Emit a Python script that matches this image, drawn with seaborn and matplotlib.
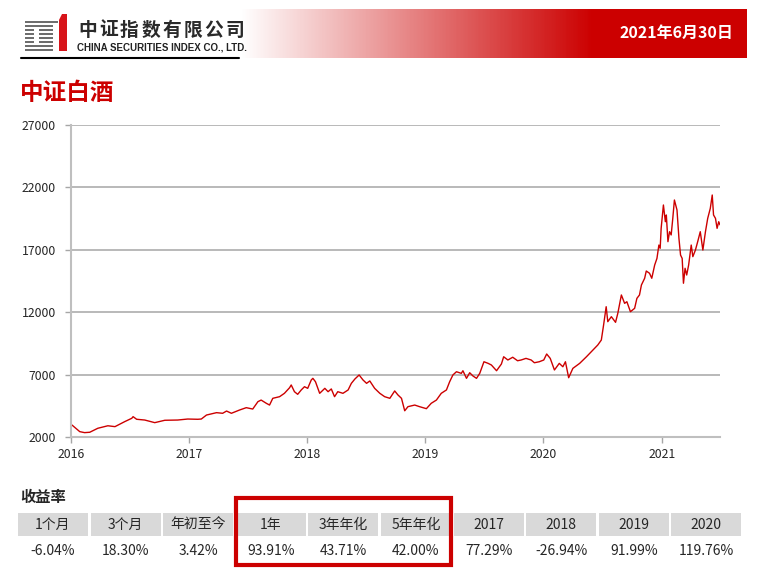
import matplotlib
matplotlib.use('Agg')
import matplotlib.pyplot as plt
import matplotlib.dates as mdates
from matplotlib.colors import LinearSegmentedColormap
from matplotlib.patches import Rectangle, Polygon
import numpy as np
import pandas as pd
import seaborn as sns

# index level (approximate, key turning points)
dates = [
    '2016-01-04', '2016-01-28', '2016-02-12', '2016-02-28', '2016-03-24', '2016-04-24',
    '2016-05-16', '2016-06-15', '2016-07-07', '2016-07-11', '2016-07-22', '2016-08-16',
    '2016-09-16', '2016-10-17', '2016-11-26', '2016-12-27', '2017-01-27', '2017-02-07',
    '2017-02-23', '2017-03-26', '2017-04-14', '2017-04-26', '2017-05-11', '2017-06-05',
    '2017-06-26', '2017-07-16', '2017-08-01', '2017-08-11', '2017-08-27', '2017-09-06',
    '2017-09-16', '2017-10-07', '2017-10-22', '2017-11-07', '2017-11-12', '2017-11-22',
    '2017-12-02', '2017-12-13', '2017-12-23', '2018-01-02', '2018-01-13', '2018-01-18',
    '2018-01-26', '2018-02-08', '2018-02-24', '2018-03-06', '2018-03-16', '2018-03-26',
    '2018-04-05', '2018-04-21', '2018-05-07', '2018-05-17', '2018-05-28', '2018-06-10',
    '2018-06-22', '2018-07-03', '2018-07-13', '2018-07-28', '2018-08-13', '2018-08-28',
    '2018-09-13', '2018-09-28', '2018-10-08', '2018-10-19', '2018-10-29', '2018-11-08',
    '2018-11-29', '2018-12-14', '2019-01-04', '2019-01-19', '2019-02-04', '2019-02-19',
    '2019-03-07', '2019-03-17', '2019-03-27', '2019-04-07', '2019-04-22', '2019-04-27',
    '2019-05-08', '2019-05-18', '2019-05-28', '2019-06-08', '2019-06-18', '2019-07-01',
    '2019-07-14', '2019-07-24', '2019-08-09', '2019-08-24', '2019-08-31', '2019-09-13',
    '2019-09-28', '2019-10-13', '2019-10-24', '2019-11-08', '2019-11-24', '2019-12-04',
    '2019-12-19', '2020-01-02', '2020-01-11', '2020-01-22', '2020-02-04', '2020-02-19',
    '2020-03-01', '2020-03-09', '2020-03-19', '2020-04-01', '2020-04-22', '2020-05-13',
    '2020-06-02', '2020-06-17', '2020-06-28', '2020-07-05', '2020-07-13', '2020-07-18',
    '2020-07-29', '2020-08-11', '2020-08-18', '2020-08-29', '2020-09-08', '2020-09-15',
    '2020-09-26', '2020-10-09', '2020-10-16', '2020-10-24', '2020-10-30', '2020-11-09',
    '2020-11-14', '2020-11-24', '2020-12-01', '2020-12-10', '2020-12-17', '2020-12-23',
    '2020-12-27', '2020-12-30', '2021-01-06', '2021-01-12', '2021-01-15', '2021-01-20',
    '2021-01-25', '2021-01-30', '2021-02-04', '2021-02-09', '2021-02-17', '2021-02-23',
    '2021-02-28', '2021-03-05', '2021-03-09', '2021-03-14', '2021-03-19', '2021-03-25',
    '2021-04-02', '2021-04-07', '2021-04-15', '2021-04-22', '2021-04-30', '2021-05-08',
    '2021-05-16', '2021-05-23', '2021-05-31', '2021-06-06', '2021-06-10', '2021-06-16',
    '2021-06-21', '2021-06-26', '2021-06-30',
]
values = [
    2960, 2430, 2350, 2380, 2700, 2900,
    2830, 3230, 3500, 3630, 3420, 3360,
    3150, 3340, 3360, 3440, 3420, 3440,
    3760, 3950, 3900, 4080, 3900, 4160,
    4350, 4240, 4830, 4960, 4700, 4560,
    5100, 5230, 5500, 5950, 6170, 5630,
    5420, 5770, 6030, 5900, 6570, 6700,
    6430, 5500, 5900, 5630, 5850, 5230,
    5630, 5500, 5770, 6300, 6650, 6970,
    6570, 6300, 6490, 5900, 5500, 5230,
    5100, 5690, 5370, 5100, 4100, 4430,
    4560, 4430, 4270, 4700, 4960, 5500,
    5770, 6430, 6970, 7230, 7100, 7310,
    6700, 7150, 6890, 6700, 7100, 8030,
    7900, 7770, 7310, 7850, 8430, 8170,
    8390, 8110, 8170, 8300, 8170, 7950,
    8030, 8170, 8650, 8300, 7370, 7900,
    7630, 8030, 6750, 7500, 7900, 8430,
    8970, 9370, 9770, 10970, 12440, 11240,
    11640, 11190, 11910, 13380, 12710, 12840,
    12040, 12310, 13110, 13380, 14180, 14720,
    15300, 15120, 14720, 15780, 16310, 17380,
    17120, 18720, 20590, 19250, 19790, 17650,
    18450, 18190, 19520, 20990, 20190, 17920,
    16580, 16310, 14320, 15520, 14980, 15780,
    17380, 16450, 16980, 17650, 18450, 16980,
    18450, 19520, 20320, 21390, 19790, 19520,
    18720, 19250, 19000,
]

periods = ['1个月', '3个月', '年初至今', '1年', '3年年化', '5年年化', '2017', '2018', '2019', '2020']
returns = ['-6.04%', '18.30%', '3.42%', '93.91%', '43.71%', '42.00%', '77.29%', '-26.94%', '91.99%', '119.76%']

RED = '#CC0000'
GRID = '#A6A6A6'

sns.set_style('white')
plt.rcParams['font.family'] = ['Noto Sans CJK SC', 'DejaVu Sans']

df = pd.DataFrame({'date': pd.to_datetime(dates), 'value': values})

fig = plt.figure(figsize=(7.61, 5.75), dpi=100)

# overlay in pixel coordinates for header, title and table
ov = fig.add_axes([0, 0, 1, 1])

# gradient banner
grad = np.clip((np.arange(240, 747) - 240) / 353.0, 0, 1)[None, :]
cmap = LinearSegmentedColormap.from_list('banner', ['white', RED])
ov.imshow(grad, cmap=cmap, extent=(240, 747, 58, 9), aspect='auto', vmin=0, vmax=1)
ov.text(733, 33, '2021年6月30日', color='white', fontsize=11.5, weight='bold',
        ha='right', va='center')

# logo
for i in range(8):
    y = 21 + 4 * i
    if i in (2, 3, 4, 5):
        ov.add_patch(Rectangle((25, y), 9, 2, color='#6E6E6E', lw=0))
        ov.add_patch(Rectangle((39, y), 14, 2, color='#6E6E6E', lw=0))
    else:
        ov.add_patch(Rectangle((25, y), 28 if i else 33, 2, color='#6E6E6E', lw=0))
ov.add_patch(Polygon([(59, 20), (62, 14), (67, 14), (67, 51), (59, 51)], color='#D7141A', lw=0))
for i, ch in enumerate('中证指数有限公司'):
    ov.text(87.5 + 21 * i, 30.5, ch, ha='center', va='center', fontsize=13.5,
            weight='bold', color='#2A2A2A')
ov.text(77, 47, 'CHINA SECURITIES INDEX CO., LTD.', fontsize=7, weight='bold',
        family='Liberation Sans', va='center', color='#222222')
ov.plot([21, 239], [58, 58], color='black', lw=1.5)

# title
ov.text(20, 93, '中证白酒', color=RED, fontsize=17, weight='bold', va='center')

# returns table
ov.text(20, 497, '收益率', fontsize=11, weight='bold', va='center')
for i, (p, r) in enumerate(zip(periods, returns)):
    x0 = 18 + i * 72.6
    ov.add_patch(Rectangle((x0, 513), 70, 23, color='#D9D9D9', lw=0))
    ov.text(x0 + 35, 525, p, ha='center', va='center', fontsize=10)
    ov.text(x0 + 35, 551, r, ha='center', va='center', fontsize=10)
ov.add_patch(Rectangle((236, 498), 215, 67, fill=False, edgecolor=RED, lw=3))

ov.set_xlim(0, 761)
ov.set_ylim(575, 0)
ov.axis('off')

# main chart
ax = fig.add_axes([71 / 761, 1 - 437 / 575, (720 - 71) / 761, (437 - 125) / 575])
sns.lineplot(data=df, x='date', y='value', ax=ax, color=RED, linewidth=1.0)
ax.set_xlim(pd.Timestamp('2016-01-01'), pd.Timestamp('2021-06-30'))
ax.set_ylim(2000, 27000)
ax.set_yticks(range(2000, 27001, 5000))
ax.xaxis.set_major_locator(mdates.YearLocator())
ax.xaxis.set_major_formatter(mdates.DateFormatter('%Y'))
ax.set_xlabel('')
ax.set_ylabel('')
ax.grid(axis='y', color=GRID, lw=1.1)
ax.set_axisbelow(True)
for s in ('top', 'right'):
    ax.spines[s].set_visible(False)
for s in ('left', 'bottom'):
    ax.spines[s].set_color('#BFBFBF')
    ax.spines[s].set_linewidth(1.5)
ax.tick_params(axis='both', length=4, width=1, color=GRID, labelsize=8.8, direction='out')
ax.tick_params(axis='y', pad=7)
ax.tick_params(axis='x', pad=4)
ax.tick_params(bottom=True, left=True)
ax.patch.set_alpha(0)

fig.savefig('out.png', dpi=100)
